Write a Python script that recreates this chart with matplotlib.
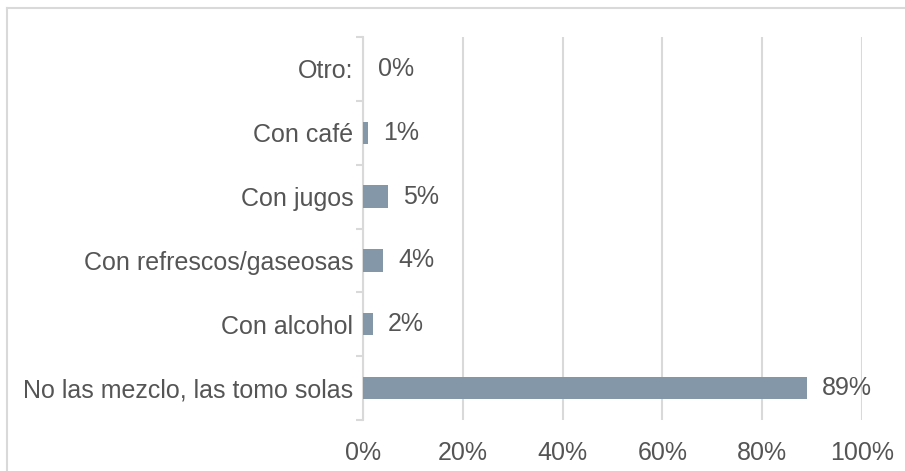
import matplotlib.pyplot as plt
from matplotlib.lines import Line2D

# categories listed bottom to top
categories = ['No las mezclo, las tomo solas', 'Con alcohol', 'Con refrescos/gaseosas',
              'Con jugos', 'Con café', 'Otro:']
values = [89, 2, 4, 5, 1, 0]
x_ticks = [0, 20, 40, 60, 80, 100]

plt.rcParams['font.family'] = ['Liberation Sans', 'DejaVu Sans']

W, H = 905, 471
fig = plt.figure(figsize=(W / 100, H / 100), dpi=100)
ax = fig.add_axes([363 / W, 1 - 420 / H, (862 - 363) / W, (420 - 37) / H])

text_color = '#555555'
grid_color = '#d9d9d9'
bar_color = '#8497a9'
fs = 18

ypos = list(range(len(categories)))
ax.barh(ypos, values, height=0.35, color=bar_color, zorder=3)

for y, v in zip(ypos, values):
    ax.text(v + 3, y, f'{v}%', va='center', ha='left', fontsize=fs, color=text_color)

ax.set_xlim(0, 100)
ax.set_ylim(-0.5, len(categories) - 0.5)
ax.set_xticks(x_ticks)
ax.set_xticklabels([f'{t}%' for t in x_ticks])
ax.set_yticks(ypos)
ax.set_yticklabels(categories)
ax.set_yticks([i - 0.5 for i in range(len(categories) + 1)], minor=True)

ax.tick_params(axis='x', length=0, pad=15, labelsize=fs, labelcolor=text_color)
ax.tick_params(axis='y', which='major', length=0, pad=7, labelsize=fs, labelcolor=text_color)
ax.tick_params(axis='y', which='minor', length=5, width=1.5, color=grid_color, direction='out')

ax.grid(axis='x', color=grid_color, linewidth=1.5, zorder=0)
ax.set_axisbelow(True)
for side in ['top', 'right', 'bottom']:
    ax.spines[side].set_visible(False)
ax.spines['left'].set_color(grid_color)
ax.spines['left'].set_linewidth(1.5)

# chart frame, only top and left edges fall inside the canvas
fig.add_artist(Line2D([7 / W, 1], [1 - 8 / H, 1 - 8 / H], color=grid_color, linewidth=1.5))
fig.add_artist(Line2D([7 / W, 7 / W], [0, 1 - 8 / H], color=grid_color, linewidth=1.5))

fig.savefig('out.png', dpi=100)
